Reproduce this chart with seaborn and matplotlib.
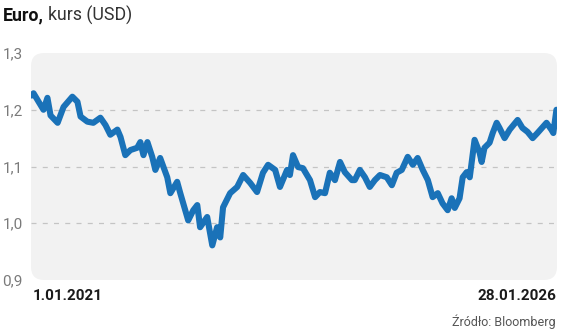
import matplotlib
matplotlib.use("Agg")
import matplotlib.pyplot as plt
from matplotlib.patches import FancyBboxPatch
import seaborn as sns
import pandas as pd

dates = [
    "2021-01-01", "2021-01-08", "2021-01-26", "2021-02-12", "2021-02-26", "2021-03-09",
    "2021-04-03", "2021-04-24", "2021-05-25", "2021-06-12", "2021-06-23", "2021-07-17",
    "2021-08-07", "2021-09-01", "2021-09-19", "2021-10-06", "2021-10-31", "2021-11-11",
    "2021-11-28", "2021-12-16", "2022-01-09", "2022-01-20", "2022-01-31", "2022-02-14",
    "2022-03-03", "2022-03-14", "2022-03-31", "2022-04-25", "2022-05-06", "2022-05-30",
    "2022-06-10", "2022-07-08", "2022-07-26", "2022-08-09", "2022-08-19", "2022-09-13",
    "2022-10-01", "2022-10-18", "2022-10-29", "2022-11-08", "2022-12-03", "2022-12-28",
    "2023-01-18", "2023-02-12", "2023-03-08", "2023-03-29", "2023-04-16", "2023-05-11",
    "2023-05-28", "2023-06-22", "2023-07-02", "2023-07-13", "2023-07-31", "2023-08-17",
    "2023-09-11", "2023-09-29", "2023-10-16", "2023-11-03", "2023-11-20", "2023-12-08",
    "2023-12-26", "2024-01-12", "2024-02-06", "2024-02-16", "2024-03-05", "2024-03-23",
    "2024-04-09", "2024-04-27", "2024-05-15", "2024-06-08", "2024-06-26", "2024-07-13",
    "2024-07-31", "2024-08-21", "2024-09-08", "2024-09-25", "2024-10-13", "2024-10-31",
    "2024-11-17", "2024-12-05", "2024-12-22", "2025-01-09", "2025-01-23", "2025-02-03",
    "2025-02-20", "2025-03-03", "2025-03-17", "2025-03-28", "2025-04-14", "2025-05-02",
    "2025-05-09", "2025-05-19", "2025-06-06", "2025-06-17", "2025-07-01", "2025-07-11",
    "2025-07-29", "2025-08-16", "2025-09-13", "2025-09-30", "2025-10-18", "2025-11-05",
    "2025-11-22", "2025-12-24", "2026-01-10", "2026-01-17", "2026-01-28",
]
rates = [
    1.225, 1.229, 1.214, 1.200, 1.221, 1.190,
    1.177, 1.205, 1.223, 1.214, 1.188, 1.179,
    1.177, 1.186, 1.173, 1.156, 1.165, 1.152,
    1.120, 1.129, 1.133, 1.143, 1.120, 1.143,
    1.117, 1.094, 1.115, 1.081, 1.053, 1.073,
    1.053, 1.005, 1.023, 1.032, 0.993, 1.011,
    0.961, 0.993, 0.975, 1.028, 1.053, 1.064,
    1.085, 1.071, 1.055, 1.089, 1.103, 1.094,
    1.064, 1.094, 1.085, 1.120, 1.099, 1.097,
    1.076, 1.046, 1.055, 1.053, 1.089, 1.076,
    1.108, 1.090, 1.076, 1.076, 1.094, 1.081,
    1.064, 1.076, 1.085, 1.081, 1.067, 1.089,
    1.094, 1.117, 1.103, 1.115, 1.094, 1.076,
    1.046, 1.053, 1.035, 1.023, 1.044, 1.027,
    1.044, 1.081, 1.090, 1.081, 1.147, 1.124,
    1.108, 1.133, 1.142, 1.159, 1.177, 1.168,
    1.150, 1.165, 1.182, 1.168, 1.161, 1.150,
    1.159, 1.177, 1.165, 1.159, 1.200,
]
y_ticks = [0.9, 1.0, 1.1, 1.2, 1.3]
y_tick_labels = ["0,9", "1,0", "1,1", "1,2", "1,3"]
x_labels = ["1.01.2021", "28.01.2026"]

df = pd.DataFrame({"date": pd.to_datetime(dates), "rate": rates})

sns.set_style("white")
plt.rcParams["font.family"] = ["Roboto", "DejaVu Sans"]

fig = plt.figure(figsize=(5.64, 3.34), dpi=100)
ax = fig.add_axes([31 / 564, 1 - 280 / 334, (557 - 31) / 564, (280 - 53) / 334])
ax.patch.set_visible(False)
bg = FancyBboxPatch((0, 0), 1, 1, boxstyle="round,pad=0,rounding_size=0.025",
                    transform=ax.transAxes, facecolor="#f2f2f2", edgecolor="none",
                    zorder=0, clip_on=False, mutation_aspect=526 / 227)
ax.add_patch(bg)

for g in [1.0, 1.1, 1.2]:
    ax.axhline(g, color="#c4c4c4", lw=0.9, ls=(0, (4, 5)), zorder=1)

sns.lineplot(data=df, x="date", y="rate", ax=ax, color="#1a72b8", lw=4.4,
             zorder=3, solid_joinstyle="round", solid_capstyle="round")

ax.set_xlim(df["date"].iloc[0] - pd.Timedelta(days=2), df["date"].iloc[-1] + pd.Timedelta(days=2))
ax.set_ylim(0.9, 1.3)
ax.set_yticks(y_ticks)
ax.set_yticklabels(y_tick_labels, color="#7a7a7a", fontsize=11)
ax.tick_params(axis="y", length=0, pad=6)
ax.set_xticks([])
ax.set_xlabel("")
ax.set_ylabel("")
for s in ax.spines.values():
    s.set_visible(False)

fig.text(33 / 564, 1 - 296 / 334, x_labels[0], ha="left", va="center",
         fontsize=11, fontweight="bold", color="#1a1a1a")
fig.text(556 / 564, 1 - 296 / 334, x_labels[1], ha="right", va="center",
         fontsize=11, fontweight="bold", color="#1a1a1a")
fig.text(556 / 564, 1 - 322 / 334, "Źródło: Bloomberg", ha="right", va="center",
         fontsize=9, color="#555555")

t1 = fig.text(3 / 564, 1 - 15 / 334, "Euro,", ha="left", va="center",
              fontsize=12.8, fontweight="bold", color="#111111")
fig.canvas.draw()
bb = t1.get_window_extent()
fig.text((bb.x1 + 4) / 564, 1 - 15 / 334, "kurs (USD)", ha="left", va="center",
         fontsize=12.8, color="#333333")

fig.savefig("out.png", dpi=100)
